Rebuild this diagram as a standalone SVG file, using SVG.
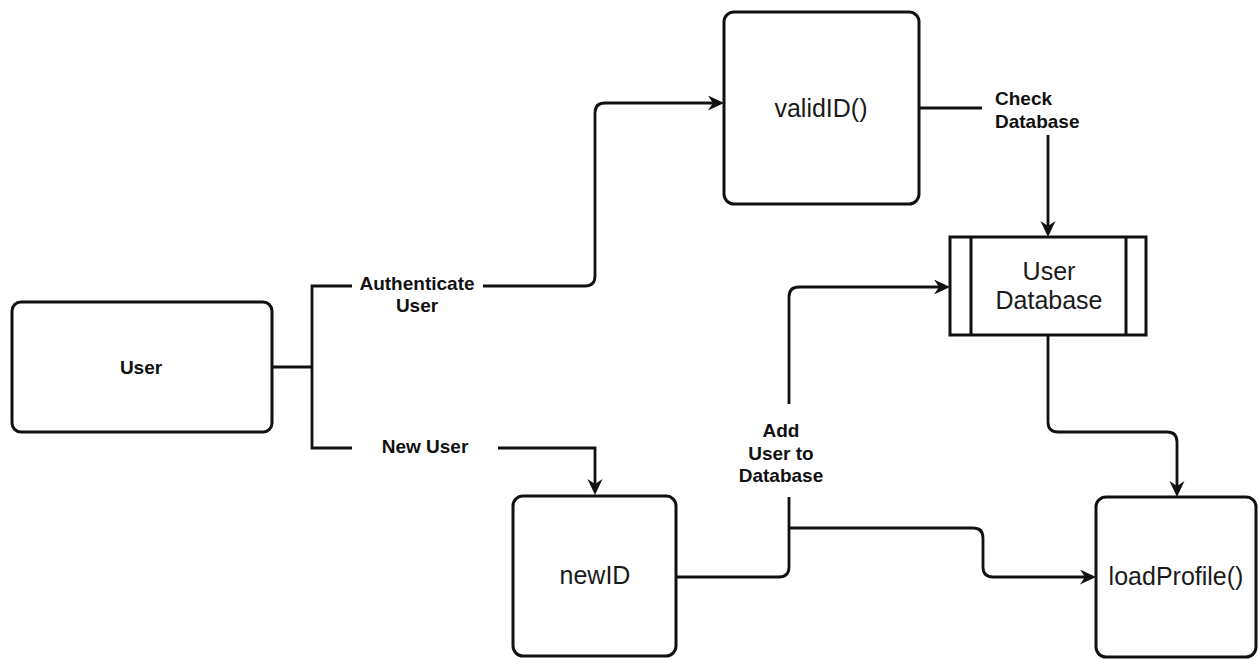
<svg xmlns="http://www.w3.org/2000/svg" width="1259" height="660" viewBox="0 0 1259 660">
  <style>
    .box { fill: #ffffff; stroke: #111111; stroke-width: 3; }
    .edge { fill: none; stroke: #111111; stroke-width: 2.8; }
    .lbl { font-family: "Liberation Sans", Arial, sans-serif; font-size: 19px; font-weight: bold; fill: #111111; }
    .ntxt { font-family: "Liberation Sans", Arial, sans-serif; font-size: 25px; fill: #1a1a1a; }
  </style>
  <defs>
    <marker id="arrow" markerUnits="userSpaceOnUse" markerWidth="18" markerHeight="16" refX="5" refY="7.5" orient="auto">
      <path d="M0,0 L16,7.5 L0,15 L5,7.5 Z" fill="#111111"/>
    </marker>
  </defs>
  <rect width="1259" height="660" fill="#ffffff"/>

  <g id="connectors">
    <path class="edge" d="M272,367 H312"/>
    <path class="edge" d="M352,286 H312 V448 H352"/>
    <path class="edge" d="M483,286 H585 Q595,286 595,276 V113 Q595,103 605,103 H713" marker-end="url(#arrow)"/>
    <path class="edge" d="M498,448 H595 V484" marker-end="url(#arrow)"/>
    <path class="edge" d="M919,108 H982"/>
    <path class="edge" d="M1048,135 V226" marker-end="url(#arrow)"/>
    <path class="edge" d="M676,577 H779 Q789,577 789,567 V497"/>
    <path class="edge" d="M789,528 H973 Q983,528 983,538 V567 Q983,577 993,577 H1085" marker-end="url(#arrow)"/>
    <path class="edge" d="M789,404 V297 Q789,287 799,287 H939" marker-end="url(#arrow)"/>
    <path class="edge" d="M1048,335 V422 Q1048,432 1058,432 H1167 Q1177,432 1177,442 V486" marker-end="url(#arrow)"/>
    <text class="lbl" text-anchor="middle" x="417" y="290">Authenticate</text>
    <text class="lbl" text-anchor="middle" x="417" y="312">User</text>
    <text class="lbl" text-anchor="middle" x="425" y="453">New User</text>
    <text class="lbl" x="995" y="105">Check</text>
    <text class="lbl" x="995" y="128">Database</text>
    <text class="lbl" text-anchor="middle" x="781" y="437">Add</text>
    <text class="lbl" text-anchor="middle" x="781" y="460">User to</text>
    <text class="lbl" text-anchor="middle" x="781" y="482">Database</text>
  </g>

  <g id="user">
    <rect class="box" x="12" y="302" width="260" height="130" rx="9"/>
    <text class="lbl" text-anchor="middle" x="141" y="374">User</text>
  </g>

  <g id="validID">
    <rect class="box" x="724" y="12" width="195" height="192" rx="10"/>
    <text class="ntxt" text-anchor="middle" x="821" y="117">validID()</text>
  </g>

  <g id="userDatabase">
    <rect class="box" x="950" y="237" width="196" height="98"/>
    <line class="box" x1="971" y1="237" x2="971" y2="335"/>
    <line class="box" x1="1126" y1="237" x2="1126" y2="335"/>
    <text class="ntxt" text-anchor="middle" x="1049" y="280">User</text>
    <text class="ntxt" text-anchor="middle" x="1049" y="309">Database</text>
  </g>

  <g id="newID">
    <rect class="box" x="513" y="496" width="163" height="160" rx="10"/>
    <text class="ntxt" text-anchor="middle" x="595" y="584">newID</text>
  </g>

  <g id="loadProfile">
    <rect class="box" x="1096" y="497" width="160" height="160" rx="10"/>
    <text class="ntxt" text-anchor="middle" x="1176" y="585">loadProfile()</text>
  </g>
</svg>
